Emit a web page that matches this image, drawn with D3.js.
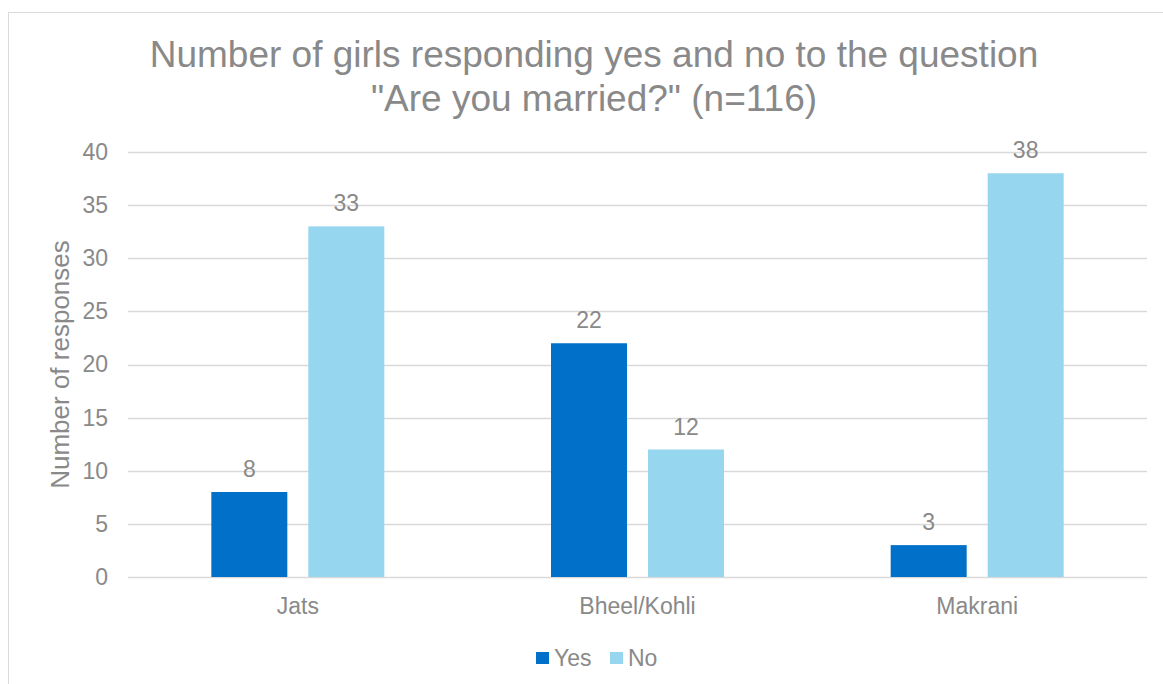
<!DOCTYPE html>
<html>
<head>
<meta charset="utf-8">
<script src="https://cdn.jsdelivr.net/npm/d3@7"></script>
<style>
  html, body { margin: 0; padding: 0; background: #fff; }
  svg { display: block; font-family: "Liberation Sans", Arial, sans-serif; }
</style>
</head>
<body>
<svg id="chart" width="1163" height="684"></svg>
<script>
// Chart data
const categories = ["Jats", "Bheel/Kohli", "Makrani"];
const seriesNames = ["Yes", "No"];
const yesValues = [8, 22, 3];
const noValues = [33, 12, 38];
const yTicks = [0, 5, 10, 15, 20, 25, 30, 35, 40];
const titleLines = ["Number of girls responding yes and no to the question", "\"Are you married?\" (n=116)"];
const yAxisTitle = "Number of responses";

const colors = { Yes: "#0070c8", No: "#97d6ef" };
const textColor = "#898989";
const gridColor = "#d9d9d9";

const svg = d3.select("#chart");

// Outer chart frame
svg.append("rect")
  .attr("x", 8.5).attr("y", 12.5)
  .attr("width", 1170).attr("height", 700)
  .attr("fill", "#fff").attr("stroke", gridColor).attr("stroke-width", 1);

const plot = { left: 128, right: 1147, top: 152, bottom: 577 };

const x0 = d3.scaleBand()
  .domain(categories)
  .range([plot.left, plot.right])
  .paddingInner(0.4907)
  .paddingOuter(0.2453);

const x1 = d3.scaleBand()
  .domain(seriesNames)
  .range([0, x0.bandwidth()])
  .paddingInner(21 / 97)
  .paddingOuter(0);

const y = d3.scaleLinear().domain([0, 40]).range([plot.bottom, plot.top]);

// Title
svg.append("g")
  .selectAll("text")
  .data(titleLines)
  .join("text")
  .attr("x", 594)
  .attr("y", (d, i) => 67 + i * 44)
  .attr("text-anchor", "middle")
  .attr("font-size", 37)
  .attr("fill", textColor)
  .text(d => d);

// Gridlines
svg.append("g")
  .selectAll("line")
  .data(yTicks)
  .join("line")
  .attr("x1", plot.left).attr("x2", plot.right)
  .attr("y1", d => Math.round(y(d)) + 0.5)
  .attr("y2", d => Math.round(y(d)) + 0.5)
  .attr("stroke", gridColor).attr("stroke-width", 1.3);

// Y axis
const yAxis = svg.append("g")
  .attr("transform", `translate(${plot.left - 20},0)`)
  .call(d3.axisLeft(y).tickValues(yTicks).tickSize(0).tickPadding(0));
yAxis.select(".domain").remove();
yAxis.selectAll("text")
  .attr("font-size", 23)
  .attr("fill", textColor)
  .attr("font-family", "Liberation Sans, Arial, sans-serif");

// X axis labels
const xAxis = svg.append("g")
  .attr("transform", `translate(0,${plot.bottom})`)
  .call(d3.axisBottom(x0).tickSize(0).tickPadding(21));
xAxis.select(".domain").remove();
xAxis.selectAll("text")
  .attr("font-size", 23)
  .attr("fill", textColor)
  .attr("font-family", "Liberation Sans, Arial, sans-serif");

// Y axis title
svg.append("text")
  .attr("transform", `translate(69,${(plot.top + plot.bottom) / 2}) rotate(-90)`)
  .attr("text-anchor", "middle")
  .attr("font-size", 26)
  .attr("fill", textColor)
  .text(yAxisTitle);

// Bars
const rows = categories.map((c, i) => ({
  category: c,
  values: [{ key: "Yes", value: yesValues[i] }, { key: "No", value: noValues[i] }]
}));

const groups = svg.append("g")
  .selectAll("g")
  .data(rows)
  .join("g")
  .attr("transform", d => `translate(${x0(d.category)},0)`);

groups.selectAll("rect")
  .data(d => d.values)
  .join("rect")
  .attr("x", d => x1(d.key))
  .attr("y", d => y(d.value))
  .attr("width", x1.bandwidth())
  .attr("height", d => y(0) - y(d.value))
  .attr("fill", d => colors[d.key]);

// Data labels
groups.selectAll("text")
  .data(d => d.values)
  .join("text")
  .attr("x", d => x1(d.key) + x1.bandwidth() / 2)
  .attr("y", d => y(d.value) - 15)
  .attr("text-anchor", "middle")
  .attr("font-size", 23)
  .attr("fill", textColor)
  .text(d => d.value);

// Legend
const legendItems = [{ key: "Yes", x: 536 }, { key: "No", x: 610 }];
const legend = svg.append("g");
legend.selectAll("rect")
  .data(legendItems)
  .join("rect")
  .attr("x", d => d.x).attr("y", 652)
  .attr("width", 13).attr("height", 12)
  .attr("fill", d => colors[d.key]);
legend.selectAll("text")
  .data(legendItems)
  .join("text")
  .attr("x", d => d.x + 18).attr("y", 666)
  .attr("font-size", 23)
  .attr("fill", textColor)
  .text(d => d.key);
</script>
</body>
</html>
